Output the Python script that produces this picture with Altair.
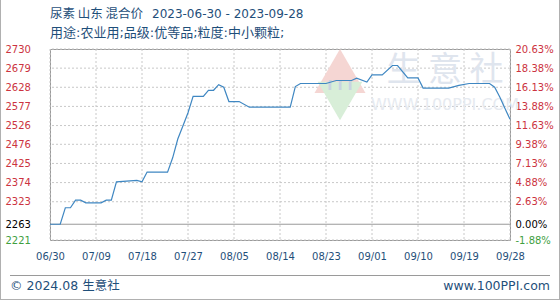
import altair as alt
import pandas as pd

title_cn = "尿素 山东 混合价"
title_dates = "2023-06-30 - 2023-09-28"
title_line2 = "用途:农业用;品级:优等品;粒度:中小颗粒;"
footer_left = "© 2024.08 生意社"
footer_right = "www.100PPI.com"
watermark_cn = "生 意 社"
watermark_en = "WWW.100PPI.COM"

dates = ["2023-06-30", "2023-07-02", "2023-07-03", "2023-07-04", "2023-07-05",
         "2023-07-06", "2023-07-07", "2023-07-10", "2023-07-11", "2023-07-12",
         "2023-07-13", "2023-07-17", "2023-07-18", "2023-07-19", "2023-07-23",
         "2023-07-24", "2023-07-25", "2023-07-26", "2023-07-27", "2023-07-28",
         "2023-07-30", "2023-07-31", "2023-08-01", "2023-08-02", "2023-08-03",
         "2023-08-04", "2023-08-06", "2023-08-08", "2023-08-16", "2023-08-17",
         "2023-08-18", "2023-08-23", "2023-08-25", "2023-08-28", "2023-08-29",
         "2023-08-31", "2023-09-01", "2023-09-03", "2023-09-05", "2023-09-06",
         "2023-09-08", "2023-09-10", "2023-09-11", "2023-09-16", "2023-09-18",
         "2023-09-20", "2023-09-24", "2023-09-25", "2023-09-26", "2023-09-27",
         "2023-09-28"]
prices = [2263, 2263, 2307, 2307, 2327,
          2327, 2320, 2320, 2327, 2327,
          2376, 2380, 2376, 2402, 2402,
          2440, 2490, 2525, 2560, 2604,
          2604, 2620, 2620, 2635, 2628,
          2590, 2590, 2575, 2575, 2630,
          2638, 2638, 2646, 2646, 2652,
          2642, 2661, 2661, 2686, 2686,
          2653, 2653, 2626, 2626, 2633,
          2638, 2638, 2628, 2602, 2572,
          2543]

base_price = 2263
left_ticks = [2221, 2263, 2323, 2374, 2425, 2476, 2526, 2577, 2628, 2679, 2730]
right_labels = ["-1.88%", "0.00%", "2.63%", "4.88%", "7.13%", "9.38%",
                "11.63%", "13.88%", "16.13%", "18.38%", "20.63%"]
x_ticks = ["2023-06-30", "2023-07-09", "2023-07-18", "2023-07-27", "2023-08-05",
           "2023-08-14", "2023-08-23", "2023-09-01", "2023-09-10", "2023-09-19",
           "2023-09-28"]

df = pd.DataFrame({"date": dates, "price": prices})
grid_x = pd.DataFrame({"date": x_ticks})
grid_y = pd.DataFrame({"v": [v for v in left_ticks if v != base_price]})


def dt(s):
    y, m, d = (int(p) for p in s.split("-"))
    return alt.DateTime(year=y, month=m, date=d, utc=True)


RED = "#cc3340"
GREEN = "#3f9f3f"
BLACK = "#000000"
AXIS_BLUE = "#1f4f7a"
GRID = "#c8c8c8"
FONT = "DejaVu Sans"
CJK = "Noto Sans CJK SC"
MIX = "DejaVu Sans, Noto Sans CJK SC"

color_expr = (f"datum.value > {base_price} ? '{RED}' : "
              f"(datum.value < {base_price} ? '{GREEN}' : '{BLACK}')")
right_expr = ("[" + ",".join(f"'{s}'" for s in right_labels) + "][indexof(["
              + ",".join(str(v) for v in left_ticks) + "], datum.value)]")

x_scale = alt.Scale(type="utc", domain=[dt(x_ticks[0]), dt(x_ticks[-1])])
x_axis = alt.Axis(values=[dt(s) for s in x_ticks],
                  labelExpr="utcFormat(datum.value, '%m/%d')",
                  title=None, domain=False, ticks=False, tickSize=0,
                  labelPadding=11, labelColor=AXIS_BLUE, labelFont=FONT,
                  labelFontSize=10, labelFlush=False, labelOverlap=False,
                  grid=False)
x_enc = alt.X("date:T", scale=x_scale, axis=x_axis)
y_scale = alt.Scale(domain=[left_ticks[0], left_ticks[-1]], nice=False, zero=False)

vgrid = alt.Chart(grid_x).mark_rule(color=GRID, strokeDash=[2, 2], strokeWidth=1).encode(
    x=x_enc)
hgrid = alt.Chart(grid_y).mark_rule(color=GRID, strokeDash=[2, 2], strokeWidth=1).encode(
    y=alt.Y("v:Q", scale=y_scale, axis=None))

line = alt.Chart(df).mark_line(color="#3f87c2", strokeWidth=1.2).encode(
    x=x_enc,
    y=alt.Y("price:Q", scale=y_scale,
            axis=alt.Axis(values=left_ticks, title=None, domain=False,
                          ticks=False, tickSize=0, labelAlign="left",
                          labelPadding=45, labelFont=FONT, labelFontSize=10,
                          format="d",
                          labelColor={"expr": color_expr}, labelFlush=False,
                          labelOverlap=False, grid=False)),
)

baseline = alt.Chart(pd.DataFrame({"b": [base_price]})).mark_rule(
    color="#9a9a9a", strokeWidth=1).encode(
    y=alt.Y("b:Q", scale=y_scale, axis=None))

pct_layer = alt.Chart(df).mark_line(opacity=0).encode(
    x=x_enc,
    y=alt.Y("price:Q", scale=y_scale,
            axis=alt.Axis(orient="right", values=left_ticks, title=None,
                          domain=False, ticks=False, tickSize=0,
                          labelPadding=5, labelFont=FONT, labelFontSize=10,
                          labelExpr=right_expr,
                          labelColor={"expr": color_expr}, labelFlush=False,
                          labelOverlap=False, grid=False)),
)

one = pd.DataFrame({"k": [0]})


def label(text, x, y, size, color, align="left", font=MIX, weight="normal"):
    return alt.Chart(one).mark_text(
        text=text, align=align, baseline="middle", fontSize=size, color=color,
        font=font, fontWeight=weight).encode(x=alt.value(x), y=alt.value(y))


wm_up = alt.Chart(one).mark_point(shape="triangle-up", filled=True, size=2600,
                                  color="#f5d6d3", opacity=1).encode(
    x=alt.value(290), y=alt.value(22))
wm_down = alt.Chart(one).mark_point(shape="triangle-down", filled=True, size=2000,
                                    color="#d8eed8", opacity=1).encode(
    x=alt.value(290), y=alt.value(52))
wm_bars = label("I I I", 290, 37, 14, "#c9d3e0", align="center", font=FONT,
                weight="bold")
wm_cn = label(watermark_cn, 395, 22, 34, "#dfe5ee", align="center", font=CJK)
wm_en = label(watermark_en, 395, 56, 16, "#e6eaf0", align="center", font=FONT)

t1a = label(title_cn, 0, -35, 12.5, AXIS_BLUE, font=CJK)
t1b = label(title_dates, 102, -35, 12, AXIS_BLUE, font=FONT)
t2 = label(title_line2, 0, -16, 13, AXIS_BLUE)
f1 = label(footer_left, -40, 237, 12.5, AXIS_BLUE)
f2 = label(footer_right, 500, 237, 12.5, AXIS_BLUE, align="right", font=FONT)

sep = alt.Chart(one).mark_rule(color="#9a9a9a", strokeWidth=1).encode(
    x=alt.value(-40), x2=alt.value(500), y=alt.value(226.5))
frame_l = alt.Chart(one).mark_rule(color="#b0b0b0").encode(
    x=alt.value(-49.5), y=alt.value(-49), y2=alt.value(251))
frame_r = alt.Chart(one).mark_rule(color="#b0b0b0").encode(
    x=alt.value(509.5), y=alt.value(-49), y2=alt.value(251))
frame_b = alt.Chart(one).mark_rule(color="#b0b0b0").encode(
    x=alt.value(-50), x2=alt.value(510), y=alt.value(250.5))

chart = alt.layer(
    vgrid, hgrid,
    wm_up, wm_down, wm_bars, wm_cn, wm_en,
    baseline, line, pct_layer,
    t1a, t1b, t2, f1, f2, sep, frame_l, frame_r, frame_b,
).resolve_scale(y="independent").properties(
    width=460, height=191, autosize="none",
    padding={"left": 50, "top": 49, "right": 50, "bottom": 60},
    background="white",
).configure_view(stroke="#9a9a9a", strokeWidth=1)

chart.save("out.html", embed_options={"renderer": "svg", "actions": False})
